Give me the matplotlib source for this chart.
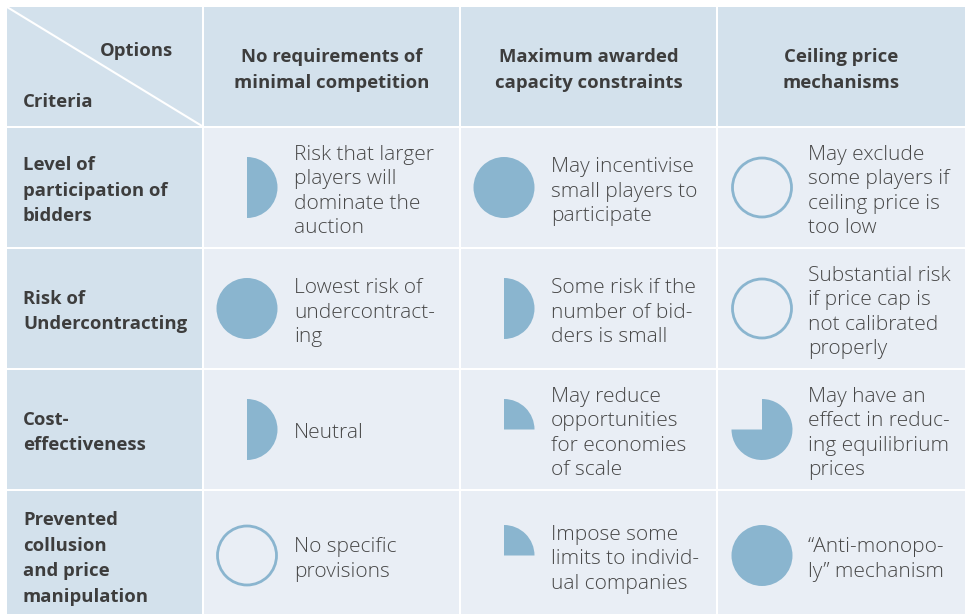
import matplotlib.pyplot as plt
from matplotlib.patches import Rectangle, Wedge, Circle

# table content
options = ["No requirements of\nminimal competition",
           "Maximum awarded\ncapacity constraints",
           "Ceiling price\nmechanisms"]
criteria = ["Level of\nparticipation of\nbidders",
            "Risk of\nUndercontracting",
            "Cost-\neffectiveness",
            "Prevented\ncollusion\nand price\nmanipulation"]
# harvey ball scores (share filled) per criterion x option
scores = [[0.5, 1.0, 0.0],
          [1.0, 0.5, 0.0],
          [0.5, 0.25, 0.75],
          [0.0, 0.25, 1.0]]
notes = [["Risk that larger\nplayers will\ndominate the\nauction",
          "May incentivise\nsmall players to\nparticipate",
          "May exclude\nsome players if\nceiling price is\ntoo low"],
         ["Lowest risk of\nundercontract-\ning",
          "Some risk if the\nnumber of bid-\nders is small",
          "Substantial risk\nif price cap is\nnot calibrated\nproperly"],
         ["Neutral",
          "May reduce\nopportunities\nfor economies\nof scale",
          "May have an\neffect in reduc-\ning equilibrium\nprices"],
         ["No specific\nprovisions",
          "Impose some\nlimits to individ-\nual companies",
          "\u201cAnti-monopo-\nly\u201d mechanism"]]

W, H = 965, 614
head_bg = "#d3e1ec"
cell_bg = "#e9eef5"
ball = "#8ab5cf"
txt = "#3d3d3d"

col_x = [7, 204, 461, 718, 967]
row_y = [7, 128, 249, 370, 491, 625]
gap = 2

fig = plt.figure(figsize=(W / 100, H / 100), dpi=100)
ax = fig.add_axes([0, 0, 1, 1])
ax.set_xlim(0, W)
ax.set_ylim(0, H)
ax.axis("off")


def Y(y):
    return H - y


for r in range(len(row_y) - 1):
    for c in range(len(col_x) - 1):
        x0, x1 = col_x[c], col_x[c + 1] - gap
        y0, y1 = row_y[r], row_y[r + 1] - gap
        bg = head_bg if (r == 0 or c == 0) else cell_bg
        ax.add_patch(Rectangle((x0, Y(y1)), x1 - x0, y1 - y0, color=bg, lw=0))

# diagonal in the corner
ax.plot([col_x[0], col_x[1] - gap], [Y(row_y[0]), Y(row_y[1] - gap)],
        color="white", lw=1.5)
ax.text(173, Y(51), "Options", ha="right", va="center", fontsize=13.3,
        fontweight="bold", color=txt, family="Open Sans")
ax.text(23, Y(102), "Criteria", ha="left", va="center", fontsize=13.3,
        fontweight="bold", color=txt, family="Open Sans")

for c, name in enumerate(options):
    cx = (col_x[c + 1] + col_x[c + 2] - gap) / 2
    ax.text(cx, Y(70), name, ha="center", va="center", fontsize=13.3,
            fontweight="bold", color=txt, family="Open Sans", linespacing=1.53)

ball_x = [247, 504, 762]
text_x = [294, 551, 808]
R = 30.5

for r, crit in enumerate(criteria):
    y0, y1 = row_y[r + 1], row_y[r + 2] - gap
    cy = (y0 + min(y1, 620)) / 2 + 1
    ax.text(23, Y(cy + 2), crit, ha="left", va="center", fontsize=13.3,
            fontweight="bold", color=txt, family="Open Sans", linespacing=1.53)
    for c in range(3):
        f = scores[r][c]
        bx, by = ball_x[c], Y(cy - 1)
        if f == 0:
            ax.add_patch(Circle((bx, by), R - 1, fill=False, ec=ball, lw=2))
        elif f == 1:
            ax.add_patch(Circle((bx, by), R, color=ball, lw=0))
        else:
            ax.add_patch(Wedge((bx, by), R, 90 - 360 * f, 90, color=ball, lw=0))
        ax.text(text_x[c], Y(cy + 3), notes[r][c], ha="left", va="center",
                fontsize=15, fontweight="light", color="#474747",
                family="Open Sans", linespacing=1.28)

fig.savefig("out.png", dpi=100)
